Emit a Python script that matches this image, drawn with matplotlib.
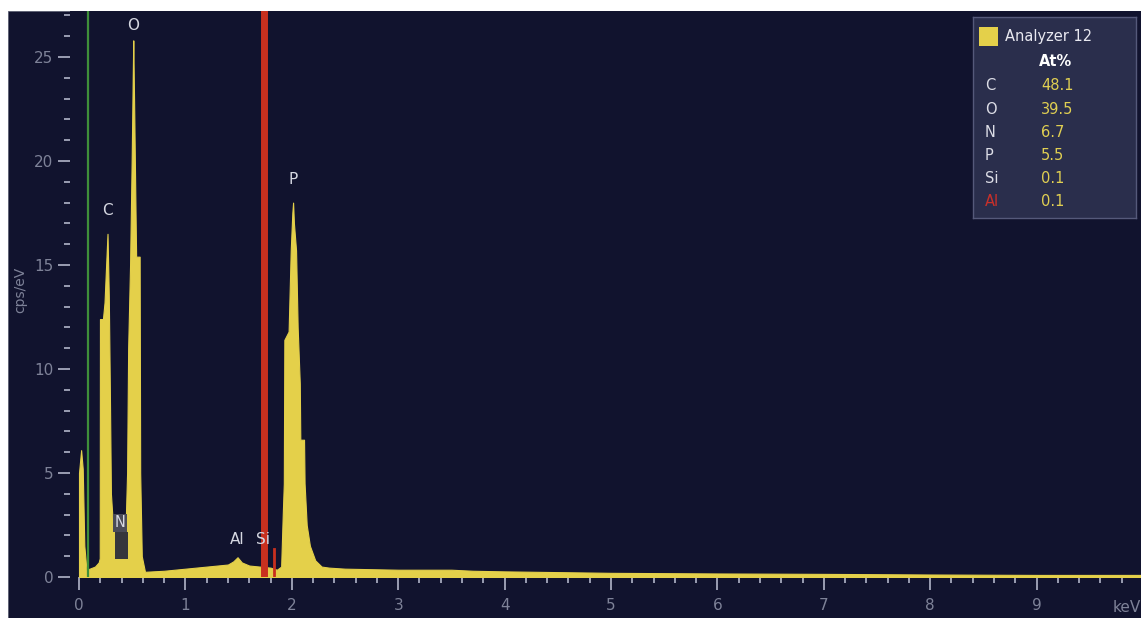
import matplotlib
matplotlib.use("Agg")
import matplotlib.pyplot as plt
from matplotlib.patches import Rectangle
from matplotlib.ticker import MultipleLocator

# EDS spectrum, outline read as (keV, cps/eV) knots
energy_kev = [
    0.00, 0.02, 0.035, 0.05, 0.07, 0.10, 0.15, 0.185, 0.195, 0.197, 0.225, 0.24,
    0.255, 0.268, 0.28, 0.29, 0.30, 0.315, 0.33, 0.36, 0.40, 0.44, 0.452, 0.462,
    0.48, 0.495, 0.505, 0.51, 0.52, 0.53, 0.537, 0.57, 0.575, 0.59, 0.62, 0.80,
    1.00, 1.20, 1.40, 1.45, 1.49, 1.53, 1.60, 1.70, 1.80, 1.86, 1.90, 1.915,
    1.925, 1.93, 1.97, 1.99, 2.005, 2.012, 2.02, 2.04, 2.055, 2.075, 2.08, 2.115,
    2.12, 2.14, 2.17, 2.22, 2.28, 2.35, 2.50, 3.00, 3.50, 3.70, 4.00, 5.00,
    6.00, 7.00, 8.00, 9.00, 10.0,
]
cps = [
    5.0, 6.1, 5.2, 1.5, 0.35, 0.4, 0.5, 0.7, 0.9, 12.4, 12.4, 13.2,
    15.0, 16.5, 13.5, 9.0, 4.0, 2.8, 2.7, 2.7, 2.8, 2.8, 5.0, 11.0,
    15.0, 20.0, 24.0, 25.8, 22.0, 18.0, 15.4, 15.4, 5.0, 1.0, 0.25, 0.3,
    0.4, 0.5, 0.6, 0.75, 0.95, 0.7, 0.55, 0.5, 0.45, 0.35, 0.5, 3.0,
    4.5, 11.4, 11.8, 15.7, 17.5, 18.0, 17.0, 15.7, 12.0, 9.3, 6.6, 6.6,
    4.5, 2.5, 1.5, 0.8, 0.5, 0.45, 0.4, 0.35, 0.35, 0.3, 0.27, 0.2,
    0.17, 0.15, 0.12, 0.1, 0.1,
]

# peak labels (element, keV, label height)
peak_names = ["O", "C", "P", "Al", "Si"]
peak_kev = [0.51, 0.265, 2.01, 1.49, 1.73]
peak_y = [26.5, 17.6, 19.1, 1.8, 1.8]

# quantification panel
elements = ["C", "O", "N", "P", "Si", "Al"]
at_pct = [48.1, 39.5, 6.7, 5.5, 0.1, 0.1]

BG = "#11132e"
YELLOW = "#e4d04a"
TICK = "#9a9db2"
TICKLABEL = "#7e8298"
LABEL = "#d6d8e2"

W, H = 1141, 618
fig = plt.figure(figsize=(W / 100, H / 100), dpi=100, facecolor="white")
fig.patches.append(Rectangle((8 / W, 0), 1 - 8 / W, (H - 11) / H,
                             transform=fig.transFigure, facecolor=BG,
                             edgecolor="#5a5d70", linewidth=0.6, zorder=-10))

ax = fig.add_axes([70 / W, (H - 577) / H, (W - 70) / W, (577 - 11) / H])
ax.set_facecolor(BG)
ax.set_xlim(-9 / 106.4, (W - 79) / 106.4)
ax.set_ylim(0, (577 - 11) / 20.8)

ax.fill_between(energy_kev, 0, cps, color=YELLOW, linewidth=0.8, edgecolor=YELLOW, zorder=2)

# marker lines
ax.axvline(0.085, color="#3f8f3a", linewidth=1.6, zorder=3)
ax.axvline(1.74, color="#c8301f", linewidth=5.0, zorder=3)
ax.plot([1.837, 1.837], [0, 1.35], color="#c8301f", linewidth=2.0, zorder=3)

# N label sits on a dark box
ax.add_patch(Rectangle((0.34, 0.85), 0.12, 1.3, facecolor="#36363c", edgecolor="none", zorder=4))
ax.text(0.385, 2.6, "N", color=LABEL, fontsize=10.5, ha="center", va="center", zorder=5,
        bbox=dict(boxstyle="square,pad=0.1", facecolor="#4a4b58", edgecolor="none"))
for name, x, y in zip(peak_names, peak_kev, peak_y):
    ax.text(x, y, name, color=LABEL, fontsize=11, ha="center", va="center", zorder=5)

for s in ax.spines.values():
    s.set_visible(False)
ax.xaxis.set_major_locator(MultipleLocator(1))
ax.xaxis.set_minor_locator(MultipleLocator(0.2))
ax.yaxis.set_major_locator(MultipleLocator(5))
ax.yaxis.set_minor_locator(MultipleLocator(1))
ax.tick_params(which="major", direction="out", length=9, width=1.4, color=TICK,
               labelcolor=TICKLABEL, labelsize=11)
ax.tick_params(which="minor", direction="out", length=4.5, width=1.4, color=TICK)
ax.tick_params(axis="x", which="major", pad=6)
ax.tick_params(axis="y", which="major", pad=3)
ax.set_xticks(range(0, 10))

fig.text(1127 / W, 1 - 607 / H, "keV", color=TICKLABEL, fontsize=11, ha="center", va="center")
fig.text(20 / W, 1 - 290 / H, "cps/eV", color=TICKLABEL, fontsize=10, rotation=90,
         ha="center", va="center")

# quantification panel, laid out in panel pixels
pax = fig.add_axes([973 / W, 1 - 218 / H, 163 / W, 201 / H])
pax.set_xlim(0, 163)
pax.set_ylim(201, 0)
pax.set_facecolor("#2a2e4c")
pax.set_xticks([])
pax.set_yticks([])
for s in pax.spines.values():
    s.set_color("#55597a")
    s.set_linewidth(1.0)
pax.add_patch(Rectangle((6, 10), 19, 19, facecolor=YELLOW, edgecolor="none"))
pax.text(32, 20, "Analyzer 12", color="#e8e8f0", fontsize=10.5, va="center")
pax.text(83, 45, "At%", color="white", fontsize=10.5, fontweight="bold", ha="center", va="center")
for i, (el, v) in enumerate(zip(elements, at_pct)):
    yy = 69 + i * 23.2
    pax.text(12, yy, el, color="#c8302a" if el == "Al" else "#dcdde6", fontsize=10.5, va="center")
    pax.text(68, yy, f"{v:.1f}", color="#e0cf52", fontsize=10.5, va="center")

fig.savefig("out.png", dpi=100, facecolor=fig.get_facecolor())
